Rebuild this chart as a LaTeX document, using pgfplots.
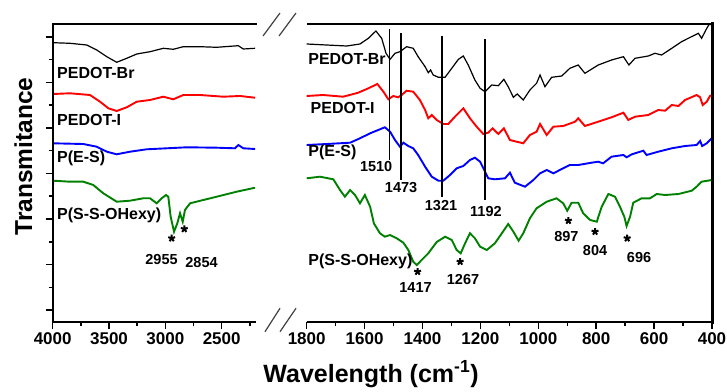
\documentclass[border=0pt]{standalone}
\usepackage{fontspec}
\setmainfont{Liberation Sans}
\usepackage{pgfplots}
\pgfplotsset{compat=1.18}
\definecolor{cgreen}{RGB}{0,128,0}
\pgfplotsset{
  panel/.style={
    scale only axis, height=298pt, ymin=0, ymax=298,
    x dir=reverse,
    axis line style={draw=none},
    tick align=outside,
    xtick pos=left,
    major tick length=7pt, minor tick length=4pt,
    tick style={black, line width=1.5pt},
    xticklabel style={font=\bfseries\fontsize{17}{17}\selectfont},
    /pgf/number format/assume math mode=true,
    /pgf/number format/1000 sep={},
    yticklabel=\empty,
  },
}
\tikzset{
  lab/.style={font=\bfseries\fontsize{16}{16}\selectfont, inner sep=0pt, anchor=west},
  num/.style={font=\bfseries\fontsize{14.5}{14.5}\selectfont, inner sep=0pt},
}
\begin{document}
\begin{tikzpicture}
\path[use as bounding box] (0pt,0pt) rectangle (727pt,391pt);
% ---------------- left panel ----------------
\begin{axis}[panel, at={(52.7pt,69pt)}, anchor=south west, width=202.8pt,
  xmin=2200, xmax=4000,
  xtick={2500,3000,3500,4000}, minor xtick={2250,2750,3250,3750},
  ytick pos=left,
  ytick={12,57.5,103,148.5,194,239.5,285},
  minor ytick={34.75,80.25,125.75,171.25,216.75,262.25}]
\addplot[black, line width=1.2pt] coordinates {(4000,279.5)(3995,279.3)(3846,278.7)(3698,277)(3609,272)(3520,265.3)(3432,259.7)(3343,263.7)(3254,268)(3136,270.3)(3018,273.7)(2930,272.7)(2841,275.3)(2693,275.3)(2544,274.7)(2353,276.3)(2308,273)(2204,273.7)};
\addplot[red, line width=1.9pt] coordinates {(4000,182)(3998,228)(3846,228.7)(3669,227)(3580,220.3)(3506,213.7)(3432,211)(3343,214.7)(3254,220.3)(3136,222)(3018,225.3)(2930,222.7)(2841,227)(2693,227)(2486,225.3)(2338,226)(2204,224.3)};
\addplot[blue, line width=1.9pt] coordinates {(4000,178.7)(3728,178)(3609,175.3)(3520,170.3)(3432,167.7)(3314,170.3)(3166,172.7)(2988,173.7)(2811,174.7)(2544,174.3)(2382,173.7)(2352,177)(2308,173.7)(2204,173)};
\addplot[cgreen, line width=1.9pt] coordinates {(4000,122)(3996,141.3)(3846,140.3)(3728,140.3)(3640,137)(3551,128.7)(3432,120.3)(3314,121.3)(3196,123.7)(3136,123.7)(3077,118.7)(3033,123.7)(2994,127)(2974,125.3)(2953,105.3)(2923,90.3)(2894,98.7)(2870,108.7)(2846,100.3)(2826,112)(2781,118.7)(2663,122)(2544,125.3)(2367,130.3)(2204,134.3)};
\addplot[only marks, black, mark=star, mark size=3.6pt, line width=2pt] coordinates {(2944,83.7)(2832,93)};
\node[lab] at (axis cs:3962,248.7) {PEDOT-Br};
\node[lab] at (axis cs:3962,202) {PEDOT-I};
\node[lab] at (axis cs:3962,164) {P(E-S)};
\node[lab] at (axis cs:3962,107) {P(S-S-OHexy)};
\node[num] at (axis cs:3034,62) {2955};
\node[num] at (axis cs:2679,59.5) {2854};
\end{axis}
% ---------------- right panel ----------------
\begin{axis}[panel, at={(306.7pt,69pt)}, anchor=south west, width=405.3pt,
  xmin=400, xmax=1800,
  xtick={400,600,...,1800}, minor xtick={500,700,...,1700},
  ytick=\empty]
\addplot[black, line width=1.2pt] coordinates {(1800,278)(1731,277)(1662,276)(1616,278)(1587,283.7)(1561,291)(1541,283.7)(1526,268.7)(1512,262.7)(1495,268.7)(1478,270.3)(1455,275.3)(1432,273.7)(1415,265.3)(1391,255.3)(1380,249.3)(1372,252)(1363,247)(1345,244.7)(1322,244.7)(1299,253.7)(1276,262.7)(1259,266)(1242,257)(1219,242)(1201,233.7)(1184,230.3)(1161,237)(1138,236.3)(1119,242.7)(1104,235.3)(1086,224.7)(1073,228)(1052,222)(1029,232)(1006,238.7)(994,247)(977,235.3)(954,244.7)(919,246)(891,253.7)(862,257)(839,248.7)(793,257)(747,262)(706,265.3)(687,257)(666,263.7)(620,266)(597,268.7)(574,267)(539,273.7)(505,280.3)(482,283.7)(447,288.7)(436,283.7)(418,293.7)(410,297.5)(402,297.5)};
\addplot[red, line width=1.9pt] coordinates {(1800,226)(1743,227)(1674,225.3)(1622,229.3)(1587,233.7)(1556,238)(1535,230.3)(1518,222.7)(1501,226)(1484,224.7)(1472,227)(1455,231.3)(1432,230.3)(1409,222)(1391,212)(1380,203.7)(1368,207)(1351,202)(1328,198)(1311,198)(1288,205.3)(1259,213.7)(1236,203.7)(1213,195.3)(1190,188)(1173,189.3)(1158,193.7)(1138,188)(1119,193.7)(1098,182)(1075,180.3)(1052,178.7)(1029,187)(1006,190.3)(994,198)(971,187)(948,195.3)(914,196)(873,200.3)(862,203.7)(839,196)(793,200.3)(747,204.7)(706,209.3)(689,202)(666,205.3)(620,207)(586,212)(562,211.3)(539,217)(516,216)(493,222)(453,227)(441,224.7)(432,217)(418,220.3)(407,226)(400,227)};
\addplot[blue, line width=1.9pt] coordinates {(1800,177)(1731,178)(1650,179.3)(1616,183.7)(1581,188.7)(1547,192.7)(1530,194.7)(1512,190.3)(1495,182)(1478,175.3)(1466,179.3)(1449,176)(1432,173.7)(1415,167)(1391,155.3)(1368,145.3)(1345,141.3)(1328,141.3)(1305,147)(1282,153.7)(1259,156)(1236,162)(1219,164.3)(1201,160.3)(1184,150.3)(1173,143.7)(1150,142.7)(1115,143.7)(1098,149.3)(1081,139.3)(1046,135.3)(1017,142)(994,148.7)(971,152)(948,148.7)(914,153.7)(891,157)(862,157)(816,159.3)(793,160.3)(776,158.7)(747,165.3)(706,167)(695,164.7)(677,167.7)(637,171.3)(626,167)(586,170.3)(539,173.7)(493,176)(453,177)(441,181)(434,176)(418,178.7)(401,183.7)};
\addplot[cgreen, line width=1.9pt] coordinates {(1800,143.7)(1754,145.3)(1708,142.7)(1685,132)(1668,125.3)(1650,132)(1633,127)(1616,118.7)(1599,127)(1581,115.3)(1568,98.7)(1547,88.7)(1530,85.3)(1512,87)(1489,83.7)(1466,79.3)(1449,72)(1432,60.3)(1420,57)(1403,62)(1380,68.7)(1351,80)(1322,85.3)(1299,82)(1282,72)(1268,68.7)(1253,78.7)(1236,88.7)(1219,83.7)(1201,75.3)(1178,72)(1150,78.7)(1126,88.7)(1104,98)(1086,90.3)(1068,81.3)(1052,88.7)(1029,103.7)(1006,113.7)(971,120.3)(937,123.7)(914,118.7)(900,111.3)(885,119.3)(862,119.3)(845,108.7)(821,102)(798,100.3)(781,115.3)(758,128)(735,125.3)(718,115.3)(703,105.3)(695,96)(683,105.3)(672,119.3)(643,123.7)(614,123.7)(591,128)(562,127)(516,128)(470,131.3)(453,135.3)(436,140.3)(401,142)};
\addplot[only marks, black, mark=star, mark size=3.6pt, line width=2pt] coordinates {(1417,50.3)(1270,60.3)(896,101.3)(804,90.3)(693,83.7)};
% marker lines
\addplot[black, line width=0.9pt] coordinates {(1513,293)(1513,162)};
\addplot[black, line width=1.6pt] coordinates {(1474,289)(1474,142)};
\addplot[black, line width=1.6pt] coordinates {(1332,286)(1332,125)};
\addplot[black, line width=1.6pt] coordinates {(1184,283)(1184,122)};
\node[lab] at (axis cs:1795,263) {PEDOT-Br};
\node[lab] at (axis cs:1787,214.5) {PEDOT-I};
\node[lab] at (axis cs:1795,169.5) {P(E-S)};
\node[lab] at (axis cs:1795,61) {P(S-S-OHexy)};
\node[num] at (axis cs:1560,155) {1510};
\node[num] at (axis cs:1474,134) {1473};
\node[num] at (axis cs:1336,116) {1321};
\node[num] at (axis cs:1181,110) {1192};
\node[num] at (axis cs:1424,34) {1417};
\node[num] at (axis cs:1260,42) {1267};
\node[num] at (axis cs:903,85) {897};
\node[num] at (axis cs:804,71.5) {804};
\node[num] at (axis cs:652,64) {696};
\end{axis}
% frame lines
\draw[line width=2pt, line cap=rect] (52.7pt,69pt) -- (52.7pt,367pt) -- (255.5pt,367pt);
\draw[line width=2pt] (52.7pt,69pt) -- (255.5pt,69pt);
\draw[line width=2pt] (306.7pt,367pt) -- (712pt,367pt);
\draw[line width=2pt] (306.7pt,69pt) -- (712pt,69pt);
\draw[line width=3pt] (712pt,67.5pt) -- (712pt,368.5pt);
% break marks
\draw[line width=1.2pt, black!75] (263pt,355pt) -- (280pt,378pt);
\draw[line width=1.2pt, black!75] (279pt,355pt) -- (296pt,378pt);
\draw[line width=1.2pt, black!75] (265pt,59.3pt) -- (280pt,82.7pt);
\draw[line width=1.2pt, black!75] (280pt,59.3pt) -- (296pt,82.7pt);
% axis titles
\node[anchor=base, font=\bfseries\fontsize{25}{25}\selectfont, inner sep=0pt] at (371pt,9pt) {Wavelength (cm\textsuperscript{-1})};
\node[anchor=base, rotate=90, font=\bfseries\fontsize{24.5}{24.5}\selectfont, inner sep=0pt] at (32pt,234.5pt) {Transmitance};
\end{tikzpicture}
\end{document}
